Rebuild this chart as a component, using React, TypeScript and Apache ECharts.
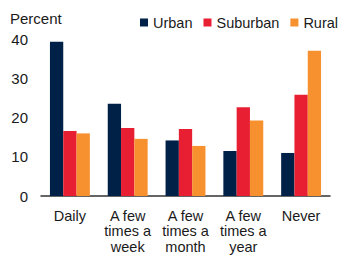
import React, { useEffect, useRef } from "react";
import * as echarts from "echarts";

const categories = ["Daily", "A few\ntimes a\nweek", "A few\ntimes a\nmonth", "A few\ntimes a\nyear", "Never"];
const urban = [39.4, 23.6, 14.2, 11.5, 11.0];
const suburban = [16.6, 17.4, 17.1, 22.7, 25.9];
const rural = [16.0, 14.6, 12.8, 19.3, 37.1];
const seriesNames = ["Urban", "Suburban", "Rural"];
const colors = ["#002147", "#E81F32", "#F7902E"];

export default function App() {
  const ref = useRef<HTMLDivElement>(null);
  useEffect(() => {
    if (!ref.current) return;
    const chart = echarts.init(ref.current, null, { renderer: "svg" });
    const font = "Liberation Sans, Arial, sans-serif";
    chart.setOption({
      animation: false,
      textStyle: { fontFamily: font },
      title: {
        text: "Percent",
        left: 10,
        top: 11,
        padding: 0,
        textStyle: { fontSize: 15, fontWeight: "normal", color: "#1a1a1a", fontFamily: font },
      },
      legend: {
        data: seriesNames,
        left: 140,
        top: 15,
        padding: 0,
        icon: "rect",
        itemWidth: 8,
        itemHeight: 8,
        itemGap: 11,
        textStyle: { fontSize: 14.5, color: "#1a1a1a", fontFamily: font },
      },
      grid: { left: 41, right: 12, top: 39.5, bottom: 60 },
      xAxis: {
        type: "category",
        data: categories,
        axisLine: { lineStyle: { color: "#333", width: 1.5 } },
        axisTick: { show: false },
        axisLabel: { fontSize: 14.5, color: "#1a1a1a", lineHeight: 15.5, margin: 12, interval: 0, fontFamily: font },
      },
      yAxis: {
        type: "value",
        min: 0,
        max: 40,
        interval: 10,
        splitLine: { show: false },
        axisLine: { show: false },
        axisTick: { show: false },
        axisLabel: { fontSize: 15, color: "#1a1a1a", margin: 13, fontFamily: font },
      },
      series: [urban, suburban, rural].map((d, i) => ({
        name: seriesNames[i],
        type: "bar",
        data: d,
        barWidth: 13.3,
        barGap: "0%",
        itemStyle: { color: colors[i] },
      })),
    });
    return () => chart.dispose();
  }, []);
  return <div ref={ref} style={{ position: "absolute", left: 0, top: 0, width: 342, height: 256 }} />;
}
